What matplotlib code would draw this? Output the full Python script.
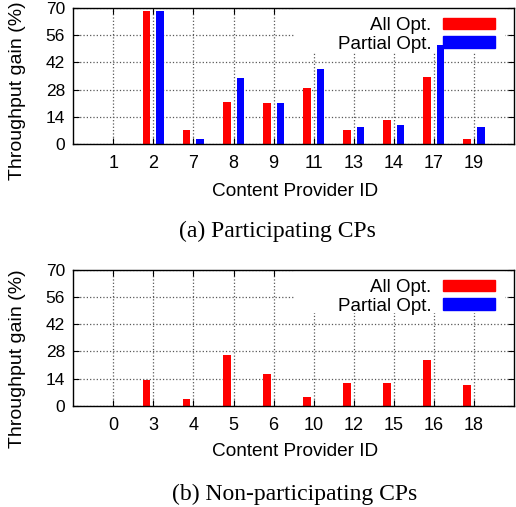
import matplotlib
matplotlib.use("Agg")
import matplotlib.pyplot as plt
import numpy as np
from matplotlib.patches import Rectangle, Patch

# participating content providers
cp_part = ["1", "2", "7", "8", "9", "11", "13", "14", "17", "19"]
all_part = [0, 68.5, 7.3, 21.8, 21.0, 28.6, 7.3, 12.3, 34.7, 2.4]
partial_part = [0, 68.5, 2.6, 34.1, 21.0, 38.5, 8.5, 9.9, 51.1, 8.7]

# non-participating content providers
cp_non = ["0", "3", "4", "5", "6", "10", "12", "15", "16", "18"]
all_non = [0, 13.1, 3.3, 26.3, 16.4, 4.5, 11.7, 11.9, 23.7, 10.8]
partial_non = [0, 0, 0, 0, 0, 0, 0, 0, 0, 0]

yticks = [0, 14, 28, 42, 56, 70]

W, H = 516, 507
plt.rcParams["font.family"] = ["Liberation Sans", "DejaVu Sans"]
fig = plt.figure(figsize=(W / 100, H / 100), dpi=100)


def px_box(left, top, right, bottom):
    return [left / W, 1 - bottom / H, (right - left) / W, (bottom - top) / H]


def panel(rect, cats, all_vals, part_vals):
    ax = fig.add_axes(rect)
    x = np.arange(1, len(cats) + 1)
    ax.bar(x - 0.17, all_vals, width=0.19, color="#ff0000", linewidth=0, zorder=2)
    ax.bar(x + 0.17, part_vals, width=0.19, color="#0000ff", linewidth=0, zorder=2)
    ax.set_xlim(0, len(cats) + 1)
    ax.set_ylim(0, 70)
    ax.set_xticks(x)
    ax.set_xticklabels(cats)
    ax.set_yticks(yticks)
    ax.set_axisbelow(True)
    ax.grid(True, linestyle=":", color="0.35", linewidth=0.9)
    ax.tick_params(direction="in", top=True, right=True, length=4, width=0.8)
    ax.tick_params(axis="x", labelsize=13, pad=8)
    ax.tick_params(axis="y", labelsize=12.5, pad=6)
    for s in ax.spines.values():
        s.set_linewidth(1.0)

    # opaque key area hides the grid, bars stay on top
    ax.add_patch(Rectangle((0.503, 0.68), 0.477, 0.32, transform=ax.transAxes,
                           facecolor="white", edgecolor="none", zorder=1))
    handles = [Patch(color="#ff0000", label="All Opt."),
               Patch(color="#0000ff", label="Partial Opt.")]
    leg = ax.legend(handles=handles, loc="upper right",
                    bbox_to_anchor=(0.957, 0.935), frameon=False,
                    markerfirst=False, fontsize=13.5, handlelength=2.75,
                    handleheight=0.55, handletextpad=0.65, labelspacing=0.1,
                    borderaxespad=0, borderpad=0)
    leg.set_zorder(1.5)
    return ax


panel(px_box(73.3, 8, 514, 144), cp_part, all_part, partial_part)
panel(px_box(73.3, 270, 514, 405.7), cp_non, all_non, partial_non)

# axis labels and sub-captions
for yc in (91, 359):
    fig.text(17.5 / W, 1 - yc / H, "Throughput gain (%)", rotation=90,
             ha="center", va="center", fontsize=14)
for yc in (191.7, 451.7):
    fig.text(295 / W, 1 - yc / H, "Content Provider ID",
             ha="center", va="center", fontsize=13.7)
fig.text(277 / W, 1 - 231 / H, "(a) Participating CPs", ha="center",
         va="center", fontsize=17, family=["Liberation Serif", "DejaVu Serif"])
fig.text(295 / W, 1 - 494 / H, "(b) Non-participating CPs", ha="center",
         va="center", fontsize=17, family=["Liberation Serif", "DejaVu Serif"])

fig.savefig("out.png", dpi=100)
